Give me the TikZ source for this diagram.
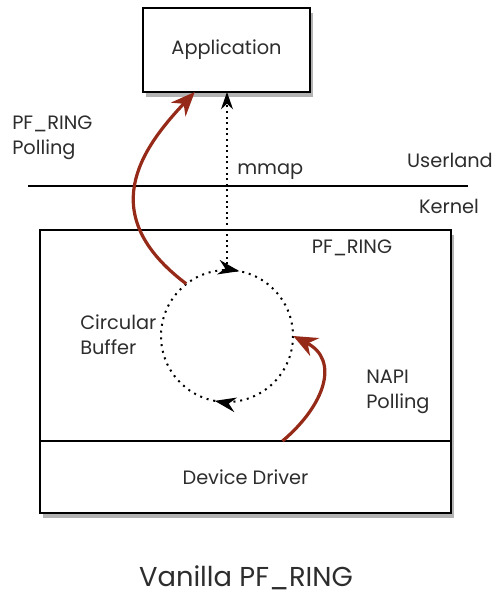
\documentclass[tikz,border=0pt]{standalone}
\usepackage{fontspec}
\setmainfont{Poppins}
\usepackage{tikz}
\definecolor{pollred}{RGB}{150,42,24}
\definecolor{labelgray}{RGB}{45,45,45}
\usetikzlibrary{shapes,arrows.meta,positioning,shadows,calc,decorations.markings}

\begin{document}
\begin{tikzpicture}[
    x=0.75pt, y=-0.75pt,
    box/.style={rectangle, draw=black, line width=1.3pt, outer sep=0pt, fill=white, text=labelgray, font=\fontsize{14.5}{17}\selectfont, drop shadow={shadow xshift=2.5pt, shadow yshift=-4pt, opacity=.6}},
    lbl/.style={font=\fontsize{14.5}{19}\selectfont, text=labelgray, align=left, inner sep=0pt},
    ringline/.style={dash pattern=on 1.5pt off 3.6pt, line width=1.5pt},
    turn/.style={postaction={decorate}, decoration={markings,
        mark=at position 0.28 with {\arrow[solid]{Stealth[length=16pt,width=11pt]}},
        mark=at position 0.78 with {\arrow[solid]{Stealth[length=16pt,width=11pt]}}}},
    mmap/.style={-{Stealth[length=13pt,width=9pt]}, dash pattern=on 1.4pt off 2.8pt, line width=1.4pt},
    poll/.style={-{Stealth[length=18pt,width=15pt]}, pollred, line width=2.4pt}
]
\useasboundingbox (0,0) rectangle (494,597);

% boxes
\node[box, minimum width=125.25pt, minimum height=63pt] (app) at (226.5,50) {Application};
\node[box, minimum width=308.25pt, minimum height=158.25pt] (ring) at (245.5,335.5) {};
\node[box, minimum width=308.25pt, minimum height=54pt, anchor=north] (driver) at (ring.south) {Device Driver};

% userland / kernel split
\coordinate (sepL) at (28,186);
\coordinate (sepR) at (468,186);
\draw[line width=1.2pt] (sepL) -- (sepR);
\node[lbl] (user) at (450,160) {Userland};
\node[lbl] (kern) at (449,206) {Kernel};

% ring buffer
\node[circle, minimum size=99pt, inner sep=0pt] (buf) at (227,336) {};
\draw[ringline, turn] (buf.center) circle[radius=66];

\node[lbl] (ringname) at (352,248) {PF\_RING};
\node[lbl, anchor=west] (buflbl) at (80,335) {Circular\\Buffer};
\node[lbl, anchor=west] (napilbl) at (366,392) {NAPI\\Polling};
\node[lbl, anchor=west] (polllbl) at (12,138) {PF\_RING\\Polling};
\node[lbl, anchor=west] (mmaplbl) at (237,172) {mmap};

% arrows
\draw[mmap] (buf.north) -- (buf.north |- app.south);
\draw[poll] (buf.128) .. controls (95,215) and (140,150) .. ($(app.south west)!0.31!(app.south east)$);
\draw[poll] ($(ring.south west)!0.59!(ring.south east)$) .. controls (325,405) and (340,360) .. (buf.east);

\node[font=\fontsize{20.5}{24}\selectfont, text=labelgray] (title) at (246,578) {Vanilla PF\_RING};

\end{tikzpicture}
\end{document}
